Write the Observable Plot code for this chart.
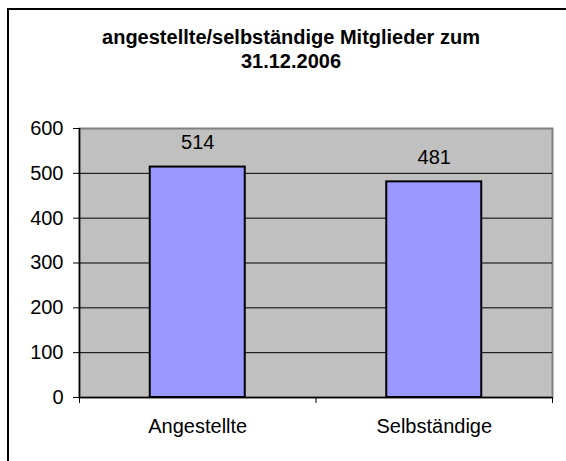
<!DOCTYPE html>
<html><head><meta charset="utf-8">
<script src="https://cdn.jsdelivr.net/npm/d3@7"></script>
<script src="https://cdn.jsdelivr.net/npm/@observablehq/plot@0.6"></script>
<style>
  html, body { margin: 0; padding: 0; background: #fff; overflow: hidden; width: 566px; height: 461px; }
  #box { position: absolute; left: 7px; top: 8px; width: 620px; height: 520px; border: 2px solid #000; box-sizing: border-box; pointer-events: none; }
  #title { position: relative; width: 582px; height: 90px; box-sizing: border-box; padding-top: 25px;
           text-align: center; font: bold 20px "Liberation Sans", Arial, sans-serif; line-height: 24px; color: #000; }
  #chart { position: relative; }
</style>
</head><body>
<div id="box"></div>
<div id="title">angestellte/selbständige Mitglieder zum<br>31.12.2006</div>
<div id="chart"></div>
<script>
const categories = ["Angestellte", "Selbständige"];
const values = [514, 481];
const yTicks = [0, 100, 200, 300, 400, 500, 600];

const table = categories.map((c, i) => ({category: c, index: i, value: values[i]}));

const chart = Plot.plot({
  width: 566,
  height: 371,
  marginTop: 38,
  marginBottom: 64,
  marginLeft: 79,
  marginRight: 14,
  style: {fontFamily: "'Liberation Sans', Arial, sans-serif", fontSize: "20px", color: "#000", background: "transparent"},
  x: {type: "linear", domain: [0, categories.length]},
  y: {domain: [0, 600]},
  marks: [
    Plot.frame({fill: "#c0c0c0", stroke: "#808080", strokeWidth: 2}),
    Plot.gridY(yTicks.slice(1, -1), {stroke: "#000", strokeOpacity: 1, strokeWidth: 1}),
    Plot.rectY(table, {x1: "index", x2: d => d.index + 1, y: "value", insetLeft: 70.75, insetRight: 70.75,
      fill: "#9999ff", stroke: "#000", strokeWidth: 2}),
    Plot.text(table, {x: d => d.index + 0.5, y: "value", text: d => String(d.value), dy: -24, lineAnchor: "middle", fill: "#000"}),
    Plot.ruleY([0], {stroke: "#000", strokeWidth: 1.5}),
    Plot.ruleX([0], {stroke: "#000", strokeWidth: 1.5}),
    Plot.axisY({ticks: yTicks, tickSize: 6, tickPadding: 10, label: null, stroke: "#000"}),
    Plot.axisX({ticks: d3.range(0, categories.length + 1), tickSize: 6, tickFormat: () => "", label: null, stroke: "#000"}),
    Plot.text(table, {x: d => d.index + 0.5, frameAnchor: "bottom", text: "category", dy: 29, lineAnchor: "middle", fill: "#000"})
  ]
});
document.getElementById("chart").appendChild(chart);
</script>
</body></html>
